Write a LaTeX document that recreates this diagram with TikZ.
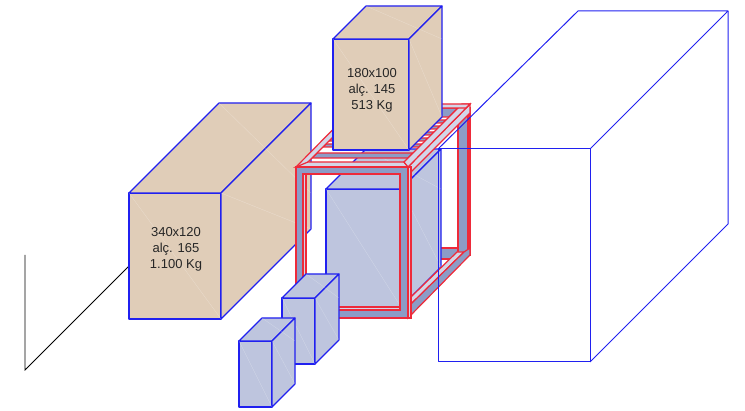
\documentclass[tikz,border=0pt]{standalone}
\usepackage{fontspec}
\setmainfont{Liberation Sans}
\definecolor{cratetan}{HTML}{E0CDB8}
\definecolor{crateblue}{HTML}{BEC5DE}
\definecolor{framedark}{HTML}{8C9CC6}
\definecolor{framelight}{HTML}{D3D6E8}
\definecolor{framered}{HTML}{EE2A3A}
\definecolor{edgeblue}{HTML}{2020F0}
\tikzset{
  edge/.style={draw=edgeblue,line width=1.1pt,line join=round},
  hull/.style={draw=edgeblue,line width=1pt,line join=round},
  tan/.style={edge,fill=cratetan},
  pale/.style={edge,fill=crateblue},
  bar/.style={draw=framered,line width=1.2pt,fill=framedark},
  rail/.style={draw=framered,line width=1.2pt,fill=framelight},
  seam/.style={draw=white,line width=0.3pt,opacity=0.3},
  weight/.style={align=center,font=\fontsize{13}{16}\selectfont,text=black!85}
}
% box with front face (x,y)-(x+w,y+h), pushed back by d
\newcommand{\crate}[6]{%
  \path[#1] (#2,#3) rectangle ++(#4,#5);
  \path[#1] (#2,#3) -- ++(#6,-#6) -- ++(#4,0) -- ++(-#6,#6) -- cycle;
  \path[#1] (#2+#4,#3) -- ++(#6,-#6) -- ++(0,#5) -- ++(-#6,#6) -- cycle;
  \draw[seam] (#2,#3) -- ++(#4,#5);
  \draw[seam] (#2+#4,#3) -- ++(#6,#5-#6);
  \draw[seam] (#2,#3) ++(#6,-#6) -- ++(#4,#6);
}
\begin{document}
\begin{tikzpicture}[x=1pt,y=-1pt]
  \useasboundingbox (0,0) rectangle (745,411);
  % 1. the black outline on the far left
  \coordinate (wallA) at (25,255);
  \coordinate (wallB) at (25,370);
  \coordinate (wallC) at (129,266);
  \draw[black,line width=0.8pt] (wallA) -- (wallB) -- (wallC);
  % 2. the large crate behind the frame
  \crate{tan}{129}{193}{92}{126}{90}
  % 3. back members of the frame
  \path[bar] (420,248) rectangle (458,259);
  \path[bar] (458,108) rectangle (470,255);
  \draw[framered,line width=1.2pt] (468,108) -- (468,250);
  % 4. the pale crate inside the frame
  \crate{pale}{326}{189}{75}{118}{40}
  % 5. slats on top of the frame
  \path[bar] (362,108) -- (458,108) -- (449,117) -- (353,117) -- cycle;
  \foreach \ya/\yb in {120/123,126/129,132/135,138/141,144/147,153/158}
    \path[bar] ({470-\ya},\ya) -- ({566-\ya},\ya) -- ({566-\yb},\yb) -- ({470-\yb},\yb) -- cycle;
  % 6. rails of the top and of the right side
  \path[rail] (408,167) -- (470,104) -- (470,113) -- (458,125) -- (409,174) -- cycle;
  \path[rail] (296,167) -- (358,104) -- (366,104) -- (308,162) -- (304,167) -- cycle;
  \path[rail] (296,167) -- (408,167) -- (404,162) -- (308,162) -- cycle;
  \path[rail] (408,167) -- (470,104) -- (462,104) -- (404,162) -- cycle;
  \path[rail] (358,104) -- (470,104) -- (466,108) -- (362,108) -- cycle;
  \path[rail] (411,297) -- (457,252) -- (464,252) -- (411,304) -- cycle;
  \path[bar] (408,318) -- (470,255) -- (470,248) -- (464,252) -- (411,304) -- (408,304) -- cycle;
  % 7. front of the frame
  \path[bar,even odd rule] (296,167) rectangle (408,318) (303,174) rectangle (400,310);
  \path[rail] (303,174) rectangle (306,310);
  \path[rail] (303,307) rectangle (400,310);
  \path[rail] (408,167) rectangle (411,318);
  % 8. the two small crates
  \crate{pale}{282}{298}{33}{66}{24}
  \crate{pale}{239}{341}{33}{66}{23}
  % 9. the empty box on the right
  \coordinate (hullA) at (438,149);
  \coordinate (hullB) at (590,149);
  \coordinate (hullC) at (590,362);
  \coordinate (hullD) at (438,362);
  \coordinate (hullE) at (578,11);
  \coordinate (hullF) at (728,11);
  \coordinate (hullG) at (728,224);
  \draw[hull] (hullA) -- (hullB) -- (hullC) -- (hullD) -- cycle;
  \draw[hull] (hullA) -- (hullE) -- (hullF) -- (hullB);
  \draw[hull] (hullF) -- (hullG) -- (hullC);
  % 10. the crate standing on the frame
  \crate{tan}{333}{39}{76}{111}{33}
  % labels
  \node[weight] (loadA) at (176,249.5) {340x120\\alç. 165\\1.100 Kg};
  \node[weight] (loadB) at (372,90.5) {180x100\\alç. 145\\513 Kg};
\end{tikzpicture}
\end{document}
